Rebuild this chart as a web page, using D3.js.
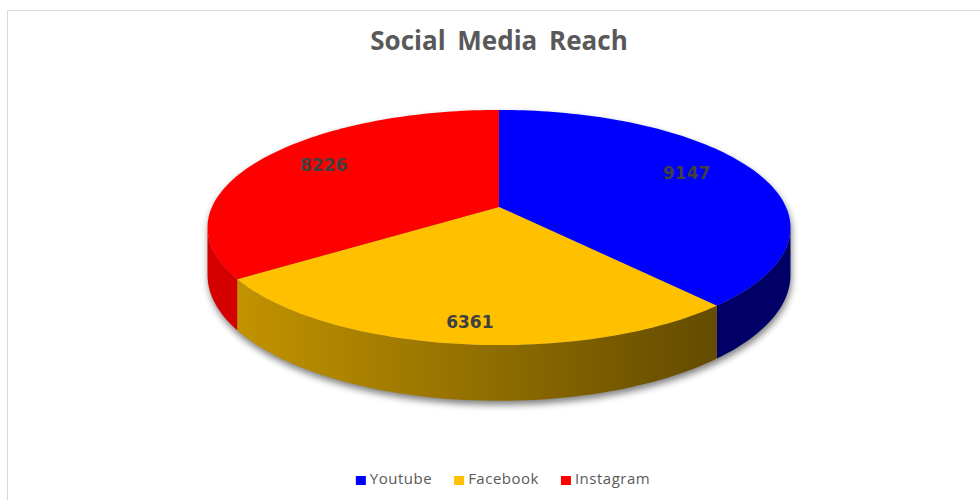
<!DOCTYPE html>
<html>
<head>
<meta charset="utf-8">
<script src="https://cdn.jsdelivr.net/npm/d3@7"></script>
<style>
  body { margin: 0; background: #fff; }
  svg { display: block; }
</style>
</head>
<body>
<div id="chart"></div>
<script>
const categories = ["Youtube", "Facebook", "Instagram"]
const reach = [9147, 6361, 8226]
const chartTitle = "Social Media Reach"

const topColors = ["#0000ff", "#ffc000", "#ff0000"]
const wallColors = ["#000066", "url(#fbWall)", "#d40000"]

const width = 980
const height = 500

// pie geometry (perspective tilted disc)
const cx = 499, cy = 207
const rx = 287, ry = 114
const k = 0.1745       // perspective strength
const depth = 46       // wall height

const svg = d3.select("#chart").append("svg")
    .attr("width", width)
    .attr("height", height)

const defs = svg.append("defs")
const grad = defs.append("linearGradient")
    .attr("id", "fbWall")
    .attr("gradientUnits", "userSpaceOnUse")
    .attr("x1", 238).attr("x2", 716).attr("y1", 0).attr("y2", 0)
grad.append("stop").attr("offset", "0%").attr("stop-color", "#c29300")
grad.append("stop").attr("offset", "100%").attr("stop-color", "#634b00")

const blur = defs.append("filter").attr("id", "shadow")
    .attr("x", "-10%").attr("y", "-10%").attr("width", "120%").attr("height", "130%")
blur.append("feGaussianBlur").attr("stdDeviation", 3.5)

// chart frame
svg.append("rect")
    .attr("x", 7.5).attr("y", 10.5)
    .attr("width", 1000).attr("height", 520)
    .attr("fill", "none")
    .attr("stroke", "#d9d9d9")

const color = d3.scaleOrdinal().domain(categories).range(topColors)
const wallColor = d3.scaleOrdinal().domain(categories).range(wallColors)

const pie = d3.pie().sort(null).value(d => d.value)
const slices = pie(categories.map((c, i) => ({name: c, value: reach[i]})))

// project a point on the disc: angle a (0 = far side, clockwise), radius fraction f, drop dz
function project(a, f = 1, dz = 0) {
    const c = Math.cos(a), s = Math.sin(a)
    const d = 1 + k * f * c
    return [cx + rx * f * s / d, cy - ry * f * c / d + dz / d]
}

function sample(a0, a1, dz) {
    const n = Math.max(2, Math.ceil(Math.abs(a1 - a0) * 40))
    return d3.range(n + 1).map(i => project(a0 + (a1 - a0) * i / n, 1, dz))
}

const line = d3.line()
const thL = Math.acos(-k)
const thR = 2 * Math.PI - thL

// shadow of the whole body
const silhouette = sample(thR, 2 * Math.PI + thL, 0).concat(sample(thL, thR, depth))
svg.append("path")
    .attr("d", line(silhouette) + "Z")
    .attr("transform", "translate(1,4)")
    .attr("fill", "#000")
    .attr("opacity", 0.5)
    .attr("filter", "url(#shadow)")

// outer walls (front half only)
svg.append("g").selectAll("path")
    .data(slices.filter(s => s.endAngle > thL && s.startAngle < thR))
    .join("path")
    .attr("d", s => {
        const a0 = Math.max(s.startAngle, thL)
        const a1 = Math.min(s.endAngle, thR)
        return line(sample(a0, a1, 0).concat(sample(a1, a0, depth))) + "Z"
    })
    .attr("fill", s => wallColor(s.data.name))

// top faces
svg.append("g").selectAll("path")
    .data(slices)
    .join("path")
    .attr("d", s => line([[cx, cy]].concat(sample(s.startAngle, s.endAngle, 0))) + "Z")
    .attr("fill", s => color(s.data.name))

// data labels
svg.append("g").selectAll("text")
    .data(slices)
    .join("text")
    .each(function(s) {
        const mid = (s.startAngle + s.endAngle) / 2
        const drop = Math.max(0, -Math.cos(mid)) * depth / 2
        const [x, y] = project(mid, 0.73, drop)
        d3.select(this).attr("x", x).attr("y", y)
    })
    .attr("text-anchor", "middle")
    .style("font-family", "'DejaVu Sans', sans-serif")
    .style("font-weight", "bold")
    .style("font-size", "17px")
    .attr("fill", "#404040")
    .text(s => s.data.value)

// title
svg.append("text")
    .attr("x", 499).attr("y", 50)
    .attr("text-anchor", "middle")
    .style("font-family", "'Open Sans', sans-serif")
    .style("font-weight", "bold")
    .style("font-size", "26px")
    .style("word-spacing", "5px")
    .attr("fill", "#595959")
    .text(chartTitle)

// legend
const legend = svg.append("g")
const items = legend.selectAll("g")
    .data(categories)
    .join("g")
items.append("rect")
    .attr("y", 476).attr("width", 10).attr("height", 9)
    .attr("fill", d => color(d))
items.append("text")
    .attr("x", 14).attr("y", 484)
    .style("font-family", "'Open Sans', sans-serif")
    .style("font-size", "15px")
    .style("letter-spacing", "0.5px")
    .attr("fill", "#595959")
    .text(d => d)

let offset = 0
const gap = 22
items.each(function() {
    const w = 14 + d3.select(this).select("text").node().getComputedTextLength()
    d3.select(this).attr("transform", "translate(" + offset + ",0)")
    offset += w + gap
})
legend.attr("transform", "translate(" + (503 - (offset - gap) / 2) + ",0)")
</script>
</body>
</html>
